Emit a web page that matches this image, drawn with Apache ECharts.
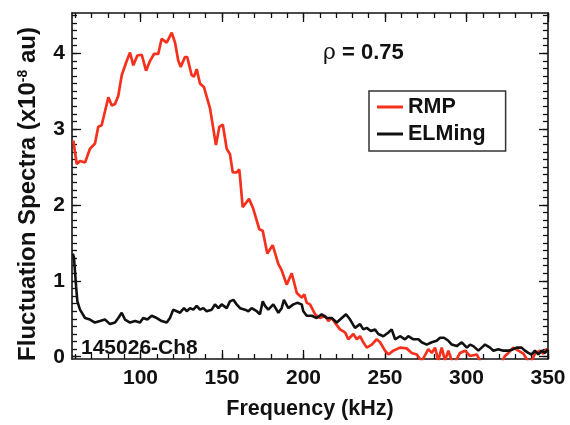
<!DOCTYPE html>
<html>
<head>
<meta charset="utf-8">
<script src="https://cdn.jsdelivr.net/npm/echarts@6/dist/echarts.min.js"></script>
<style>html,body{margin:0;padding:0;background:#fff}#c{width:570px;height:425px}</style>
</head>
<body>
<div id="c"></div>
<script>
// ---- data ----
const rmpFreq = [58.8,60.9,62.9,66.0,69.0,72.1,74.1,76.2,80.3,82.4,84.4,86.4,88.5,91.6,93.6,95.6,98.1,100.8,103.4,105.9,108.3,110.9,113.0,116.1,119.2,121.2,123.2,124.7,127.3,128.7,131.4,132.8,134.5,136.5,139.0,142.7,146.3,148.4,150.5,152.9,154.9,156.6,159.0,160.6,161.1,162.7,166.6,169.2,172.9,175.0,177.8,181.1,184.6,186.6,189.7,192.8,195.9,198.9,200.5,202.0,204.0,207.1,210.1,213.2,215.2,217.3,219.3,222.4,225.5,227.5,230.6,232.7,234.7,236.7,238.8,241.9,244.9,247.0,250.0,252.1,255.1,259.2,263.3,266.4,269.5,272.5,276.6,278.7,280.7,282.7,284.8,286.8,288.9,291.9,296.0,299.1,302.2,306.3,309.3,314.4,320.6,323.6,325.7,328.7,331.8,334.9,339.0,342.0,345.1,347.1,349.2,350.0];
const rmpValues = [2.85,2.54,2.58,2.56,2.74,2.81,3.03,3.05,3.42,3.31,3.33,3.44,3.71,3.90,4.01,3.84,3.97,3.98,3.77,3.90,3.99,3.99,4.19,4.14,4.27,4.14,3.90,3.82,3.95,3.95,3.71,3.69,3.79,3.60,3.55,3.27,2.79,3.03,3.06,2.74,2.67,2.43,2.43,2.47,2.36,1.97,2.08,1.95,1.68,1.66,1.36,1.47,1.22,1.14,0.95,1.10,0.84,0.78,0.82,0.71,0.69,0.56,0.51,0.54,0.47,0.51,0.45,0.36,0.32,0.23,0.30,0.23,0.27,0.19,0.12,0.16,0.23,0.19,0.08,0.03,0.08,0.12,0.11,0.05,0.03,-0.06,0.10,0.05,0.12,-0.05,0.12,-0.05,0.08,-0.12,0.05,0.08,0.01,0.03,-0.10,-0.15,-0.12,0.01,0.05,0.12,0.08,0.04,-0.10,0.04,0.08,0.04,0.10,0.08];
const elmFreq = [58.5,59.2,60.5,61.3,62.9,66.0,69.0,72.1,75.2,78.2,81.3,84.4,86.4,88.5,90.5,93.6,96.7,99.7,101.7,104.2,106.9,110.0,113.0,116.1,118.1,120.1,122.2,124.3,126.7,128.4,130.4,132.4,134.5,136.5,138.6,140.6,143.7,145.7,147.8,149.8,152.9,154.9,157.0,159.0,161.1,164.1,166.2,168.2,171.3,173.3,175.0,176.4,178.4,181.5,184.6,186.6,188.0,190.7,193.8,196.2,198.9,199.9,202.0,205.1,208.1,211.2,214.3,217.3,220.4,223.5,226.1,228.6,231.6,234.7,236.7,238.8,241.3,243.9,245.9,249.0,252.1,254.1,256.2,259.2,262.3,264.3,267.4,270.5,272.5,275.6,278.7,281.7,283.8,286.2,288.9,291.0,294.0,297.1,300.2,302.2,304.2,307.3,309.3,311.4,314.4,316.5,319.5,322.6,325.7,328.7,330.8,333.8,335.9,337.9,340.0,342.0,344.1,346.2,348.2,350.0];
const elmValues = [1.36,1.31,0.93,0.73,0.62,0.51,0.49,0.45,0.47,0.49,0.43,0.45,0.51,0.58,0.49,0.45,0.47,0.45,0.51,0.49,0.54,0.51,0.47,0.45,0.51,0.62,0.60,0.58,0.64,0.60,0.64,0.62,0.67,0.62,0.64,0.60,0.62,0.69,0.64,0.69,0.64,0.73,0.75,0.69,0.64,0.62,0.60,0.64,0.60,0.56,0.73,0.67,0.62,0.69,0.58,0.64,0.75,0.64,0.69,0.71,0.69,0.60,0.54,0.54,0.51,0.56,0.51,0.51,0.45,0.51,0.56,0.49,0.38,0.43,0.36,0.38,0.34,0.36,0.30,0.27,0.32,0.36,0.23,0.27,0.23,0.27,0.23,0.23,0.19,0.16,0.19,0.21,0.25,0.25,0.21,0.16,0.14,0.19,0.12,0.16,0.14,0.08,0.12,0.16,0.12,0.08,0.10,0.08,0.08,0.10,0.12,0.12,0.08,0.05,0.03,0.08,0.03,0.08,0.05,0.10];
const xMajorTicks = [100,150,200,250,300,350];
const xMinorTicks = [60,70,80,90,100,110,120,130,140,150,160,170,180,190,200,210,220,230,240,250,260,270,280,290,300,310,320,330,340,350];
const yMajorTicks = [0,1,2,3,4];
const yMinorTicks = [0,0.1,0.2,0.3,0.4,0.5,0.6,0.7,0.8,0.9,1,1.1,1.2,1.3,1.4,1.5,1.6,1.7,1.8,1.9,2,2.1,2.2,2.3,2.4,2.5,2.6,2.7,2.8,2.9,3,3.1,3.2,3.3,3.4,3.5,3.6,3.7,3.8,3.9,4,4.1,4.2,4.3,4.4,4.5];
const seriesNames = ['RMP','ELMing'];
const xName = 'Frequency (kHz)';
const yName = 'Fluctuation Spectra (x10{s|-8} au)';
const rhoText = '{g|ρ} = 0.75';
const shotText = '145026-Ch8';

const FONT = "'Liberation Sans', Arial, sans-serif";
const X_MIN = 58, X_MAX = 350, Y_MIN = -0.03, Y_MAX = 4.53;
const AX = {color:'#111', width:1.6};

function xAxis(position, ticks, len, main) {
  return {
    type:'value', position, min:X_MIN, max:X_MAX,
    axisLine:{show:main, onZero:false, lineStyle:AX},
    axisTick:{show:true, inside:true, length:len, customValues:ticks, lineStyle:{color:'#111', width:1.3}},
    axisLabel:{show: main && position==='bottom', customValues:ticks, margin:9,
      fontFamily:FONT, fontWeight:'bold', fontSize:21, color:'#111'},
    splitLine:{show:false},
    name: (main && position==='bottom') ? xName : '',
    nameLocation:'middle', nameGap:39,
    nameTextStyle:{fontFamily:FONT, fontWeight:'bold', fontSize:21.5, color:'#111'}
  };
}
function yAxis(position, ticks, len, main) {
  return {
    type:'value', position, min:Y_MIN, max:Y_MAX,
    axisLine:{show:main, onZero:false, lineStyle:AX},
    axisTick:{show:true, inside:true, length:len, customValues:ticks, lineStyle:{color:'#111', width:1.3}},
    axisLabel:{show: main && position==='left', customValues:ticks, margin:7,
      fontFamily:FONT, fontWeight:'bold', fontSize:21, color:'#111'},
    splitLine:{show:false},
    name: (main && position==='left') ? yName : '',
    nameLocation:'middle', nameGap:32,
    nameTextStyle:{fontFamily:FONT, fontWeight:'bold', fontSize:24, color:'#111', padding:[0,16,0,0],
      rich:{s:{fontFamily:FONT, fontWeight:'bold', fontSize:14, verticalAlign:'top', color:'#111', padding:[0,0,10,0]}}}
  };
}

const chart = echarts.init(document.getElementById('c'), null, {renderer:'canvas'});
chart.setOption({
  animation:false,
  backgroundColor:'#fff',
  grid:{left:72, right:22, top:13, bottom:62, containLabel:false},
  xAxis:[
    xAxis('bottom', xMajorTicks, 9, true),
    xAxis('bottom', xMinorTicks, 5, false),
    xAxis('top', xMajorTicks, 9, true),
    xAxis('top', xMinorTicks, 5, false)
  ],
  yAxis:[
    yAxis('left', yMajorTicks, 9, true),
    yAxis('left', yMinorTicks, 5, false),
    yAxis('right', yMajorTicks, 9, true),
    yAxis('right', yMinorTicks, 5, false)
  ],
  legend:{
    orient:'vertical', left:369, top:91,
    data:seriesNames.map(n => ({name:n, icon:'rect'})),
    itemWidth:26, itemHeight:3, itemGap:5,
    padding:[5,20,6,8],
    borderColor:'#333', borderWidth:1.5,
    textStyle:{fontFamily:FONT, fontWeight:'bold', fontSize:21.5, color:'#111'}
  },
  graphic:[
    {type:'text', left:323, top:42, style:{text:rhoText, fontFamily:FONT, fontWeight:'bold', fontSize:22, fill:'#111',
      rich:{g:{fontFamily:"'DejaVu Serif', serif", fontSize:22, fontWeight:'normal', fill:'#111'}}}},
    {type:'text', left:81, top:338, style:{text:shotText, fontFamily:FONT, fontWeight:'bold', fontSize:21, fill:'#111'}}
  ],
  series:[
    {name:seriesNames[0], type:'line', symbol:'none', clip:true, xAxisIndex:0, yAxisIndex:0,
      lineStyle:{color:'#f5301c', width:2.7}, itemStyle:{color:'#f5301c'},
      data: rmpFreq.map((f,i)=>[f, rmpValues[i]])},
    {name:seriesNames[1], type:'line', symbol:'none', clip:true, xAxisIndex:0, yAxisIndex:0,
      lineStyle:{color:'#111', width:2.6}, itemStyle:{color:'#111'},
      data: elmFreq.map((f,i)=>[f, elmValues[i]])}
  ]
});
</script>
</body>
</html>
